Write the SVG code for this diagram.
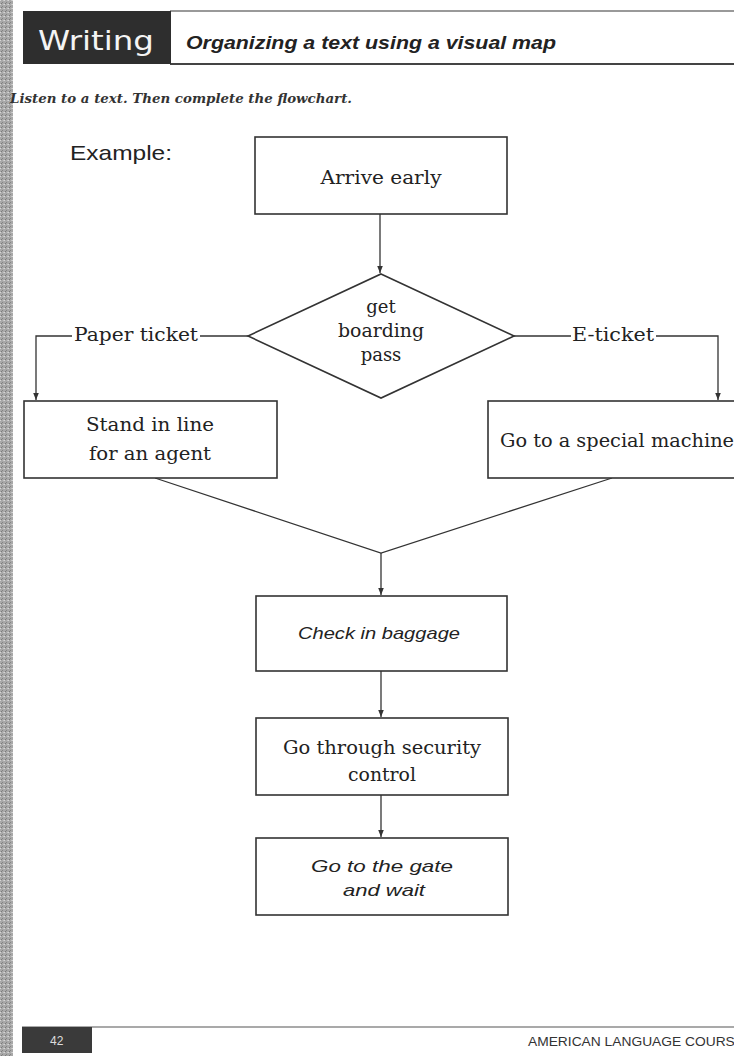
<svg xmlns="http://www.w3.org/2000/svg" width="734" height="1056" viewBox="0 0 734 1056">
<defs>
<marker id="arr" viewBox="0 0 10 10" refX="10" refY="5" markerWidth="7" markerHeight="9" orient="auto" markerUnits="userSpaceOnUse">
<path d="M0,1 L10,5 L0,9 z" fill="#333"/>
</marker>
<pattern id="grain" width="4" height="4" patternUnits="userSpaceOnUse">
<rect width="4" height="4" fill="#a8a8a8"/>
<rect x="0" y="0" width="1" height="1" fill="#d6d6d6"/>
<rect x="2" y="2" width="1" height="1" fill="#858585"/>
<rect x="3" y="0" width="1" height="1" fill="#c4c4c4"/>
<rect x="1" y="3" width="1" height="1" fill="#7a7a7a"/>
</pattern>
</defs>
<style>
.box{fill:#fff;stroke:#333;stroke-width:1.6}
.ln{fill:none;stroke:#333;stroke-width:1.3}
.serif{font-family:"DejaVu Serif","Liberation Serif",serif;font-size:18px;fill:#222;text-anchor:middle}
.hand{font-family:"Liberation Sans",Arial,sans-serif;font-style:italic;font-size:17px;fill:#222;text-anchor:middle}
</style>
<rect width="734" height="1056" fill="#fff"/>
<rect x="0" y="0" width="13" height="1056" fill="url(#grain)"/>
<g id="header">
<line x1="170" y1="11" x2="734" y2="11" stroke="#777" stroke-width="1.5"/>
<line x1="170" y1="64" x2="734" y2="64" stroke="#444" stroke-width="2"/>
<rect x="23" y="11" width="148" height="53" fill="#2e2e2e"/>
<text x="38" y="50" font-family="'DejaVu Sans',sans-serif" font-size="27" fill="#f4f4f4" textLength="116" lengthAdjust="spacingAndGlyphs">Writing</text>
<text x="186" y="49" font-family="'Liberation Sans',Arial,sans-serif" font-weight="bold" font-style="italic" font-size="19" fill="#222" textLength="370" lengthAdjust="spacingAndGlyphs">Organizing a text using a visual map</text>
</g>
<text id="instruction" x="10" y="103" font-family="'DejaVu Serif','Liberation Serif',serif" font-style="italic" font-weight="bold" font-size="12.5" fill="#333" textLength="342" lengthAdjust="spacingAndGlyphs">Listen to a text. Then complete the flowchart.</text>
<text id="example" x="70" y="160" font-family="'Liberation Sans',Arial,sans-serif" font-size="21" fill="#222" textLength="102" lengthAdjust="spacingAndGlyphs">Example:</text>

<g id="connectors">
<line class="ln" x1="380" y1="214" x2="380" y2="273" marker-end="url(#arr)"/>
<polyline class="ln" points="248,336 200,336"/>
<polyline class="ln" points="72,336 36,336 36,400" marker-end="url(#arr)"/>
<polyline class="ln" points="514,336 571,336"/>
<polyline class="ln" points="656,336 718,336 718,400" marker-end="url(#arr)"/>
<polyline class="ln" points="155,478 381,553 612,478"/>
<line class="ln" x1="381" y1="553" x2="381" y2="595" marker-end="url(#arr)"/>
<line class="ln" x1="381" y1="671" x2="381" y2="717" marker-end="url(#arr)"/>
<line class="ln" x1="381" y1="795" x2="381" y2="837" marker-end="url(#arr)"/>
<text x="136" y="341" class="serif" textLength="124" lengthAdjust="spacingAndGlyphs">Paper ticket</text>
<text x="613" y="341" class="serif" textLength="82" lengthAdjust="spacingAndGlyphs">E-ticket</text>
</g>

<g id="arrive">
<rect class="box" x="255" y="137" width="252" height="77"/>
<text x="381" y="184" class="serif" textLength="121" lengthAdjust="spacingAndGlyphs">Arrive early</text>
</g>
<g id="decision">
<polygon points="381,274 514,336 381,398 248,336" fill="#fff" stroke="#333" stroke-width="1.6"/>
<text x="381" y="313" class="serif">get</text>
<text x="381" y="337" class="serif" textLength="86" lengthAdjust="spacingAndGlyphs">boarding</text>
<text x="381" y="361" class="serif">pass</text>
</g>
<g id="stand">
<rect class="box" x="24" y="401" width="253" height="77"/>
<text x="150" y="431" class="serif" textLength="128" lengthAdjust="spacingAndGlyphs">Stand in line</text>
<text x="150" y="460" class="serif" textLength="122" lengthAdjust="spacingAndGlyphs">for an agent</text>
</g>
<g id="machine">
<rect class="box" x="488" y="401" width="260" height="77"/>
<text x="500" y="447" class="serif" style="text-anchor:start" textLength="234" lengthAdjust="spacingAndGlyphs">Go to a special machine</text>
</g>
<g id="checkin">
<rect class="box" x="256" y="596" width="251" height="75"/>
<text x="379" y="639" class="hand" textLength="162" lengthAdjust="spacingAndGlyphs">Check in baggage</text>
</g>
<g id="security">
<rect class="box" x="256" y="718" width="252" height="77"/>
<text x="382" y="754" class="serif" textLength="198" lengthAdjust="spacingAndGlyphs">Go through security</text>
<text x="382" y="781" class="serif" textLength="68" lengthAdjust="spacingAndGlyphs">control</text>
</g>
<g id="gate">
<rect class="box" x="256" y="838" width="252" height="77"/>
<text x="382" y="872" class="hand" textLength="142" lengthAdjust="spacingAndGlyphs">Go to the gate</text>
<text x="384" y="896" class="hand" textLength="82" lengthAdjust="spacingAndGlyphs">and wait</text>
</g>

<g id="footer">
<line x1="22" y1="1027" x2="734" y2="1027" stroke="#555" stroke-width="1.2"/>
<rect x="22" y="1027" width="70" height="26" fill="#3a3a3a"/>
<text x="50" y="1045" font-family="'Liberation Sans',Arial,sans-serif" font-size="12" fill="#ddd">42</text>
<text x="528" y="1046" font-family="'Liberation Sans',Arial,sans-serif" font-size="13" fill="#333" textLength="216" lengthAdjust="spacingAndGlyphs">AMERICAN LANGUAGE COURSE</text>
</g>
</svg>
